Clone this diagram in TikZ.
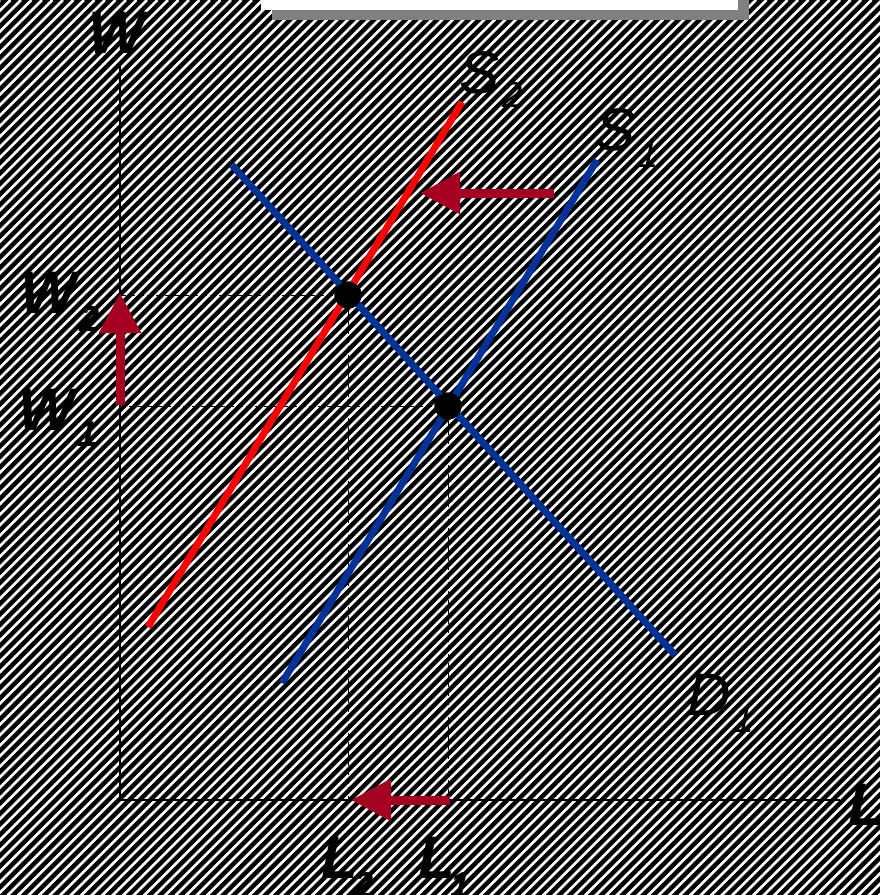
\documentclass[tikz,border=0pt]{standalone}
\usepackage{fontspec}
\setmainfont{Liberation Sans}
\usetikzlibrary{arrows.meta}
\definecolor{sblue}{HTML}{003399}
\definecolor{sred}{HTML}{FF0000}
\definecolor{arrowred}{HTML}{A50021}
\definecolor{shadowgray}{HTML}{808080}
\newcommand\bigsz{\fontsize{60}{60}\selectfont}
\newcommand\subsz{\fontsize{36}{36}\selectfont}
% #1 letter, #2 subscript, #3 kern, #4 drop
\newcommand\sublab[4]{{\bigsz #1}\kern#3\raisebox{-#4}{\subsz #2}}
\tikzset{
  curve/.style={line width=7pt},
  axis/.style={black, line width=1.6pt},
  guide/.style={black, line width=1pt, dash pattern=on 6pt off 3pt},
  eqdot/.style={circle, fill=black, minimum size=27pt, inner sep=0pt},
  shiftarrow/.style={draw=arrowred, line width=9pt, -{Triangle[length=40pt,width=40pt,fill=arrowred]}},
  lab/.style={anchor=base west, inner sep=0pt, text=black},
  boldlab/.style={lab, font=\bfseries\itshape},
  itlab/.style={lab, font=\itshape}
}
\begin{document}
\begin{tikzpicture}[x=1pt,y=-1pt]
\useasboundingbox (0,0) rectangle (880,895);
% striped background
\fill[black] (0,0) rectangle (880,895);
\begin{scope}
  \clip (0,0) rectangle (880,895);
  \foreach \i in {0,...,172}
    \draw[white, line width=2.6pt] ({\i*10.5-900},900) -- ({\i*10.5},0);
\end{scope}
% white box with gray shadow at the top
\fill[shadowgray] (272,-5) rectangle (749,20);
\fill[white] (261,-5) rectangle (738,10);
% coordinates
\coordinate (O) at (120,800);
\coordinate (Wtop) at (120,65);
\coordinate (Lend) at (840,800);
\coordinate (S2a) at (148,627);
\coordinate (S2b) at (462,102);
\coordinate (S1a) at (282,683);
\coordinate (S1b) at (597,160);
\coordinate (Da) at (232,165);
\coordinate (Db) at (675,655);
\coordinate (A1s) at (120,405);
\coordinate (A1e) at (120,293);
\coordinate (A2s) at (554,193);
\coordinate (A2e) at (420,193);
\coordinate (A3s) at (450,800);
\coordinate (A3e) at (351,800);
% axes
\draw[axis] (Wtop) -- (O) -- (Lend);
% equilibrium points
\node[eqdot] (E2) at (348,295) {};
\node[eqdot] (E1) at (448,406) {};
% guides
\draw[guide] (O |- E2) -- (E2.center) -- (E2.center |- O);
\draw[guide] (O |- E1) -- (E1.center) -- (E1.center |- O);
% curves
\draw[curve, sred] (S2a) -- (S2b);
\draw[curve, sblue] (S1a) -- (S1b);
\draw[curve, sblue] (Da) -- (Db);
% redraw dots on top
\node[eqdot] at (E2) {};
\node[eqdot] at (E1) {};
% shift arrows
\draw[shiftarrow] (A1s) -- (A1e);
\draw[shiftarrow] (A2s) -- (A2e);
\draw[shiftarrow] (A3s) -- (A3e);
% labels
\node[boldlab] (wlab) at (88,53) {\bigsz W};
\node[boldlab] (w2lab) at (20,313) {\sublab{W}{2}{3pt}{18pt}};
\node[boldlab] (w1lab) at (18,430) {\sublab{W}{1}{3pt}{16pt}};
\node[boldlab] (l2lab) at (321,878) {\sublab{L}{2}{-4pt}{19pt}};
\node[boldlab] (l1lab) at (418,878) {\sublab{L}{1}{-4pt}{19pt}};
\node[boldlab] (llab) at (848,825) {\bigsz L};
\node[itlab] (s2lab) at (459,93) {\sublab{S}{2}{3pt}{14pt}};
\node[itlab] (s1lab) at (595,150) {\sublab{S}{1}{3pt}{17pt}};
\node[itlab] (d1lab) at (687,715) {\sublab{D}{1}{3pt}{17pt}};
\end{tikzpicture}
\end{document}
